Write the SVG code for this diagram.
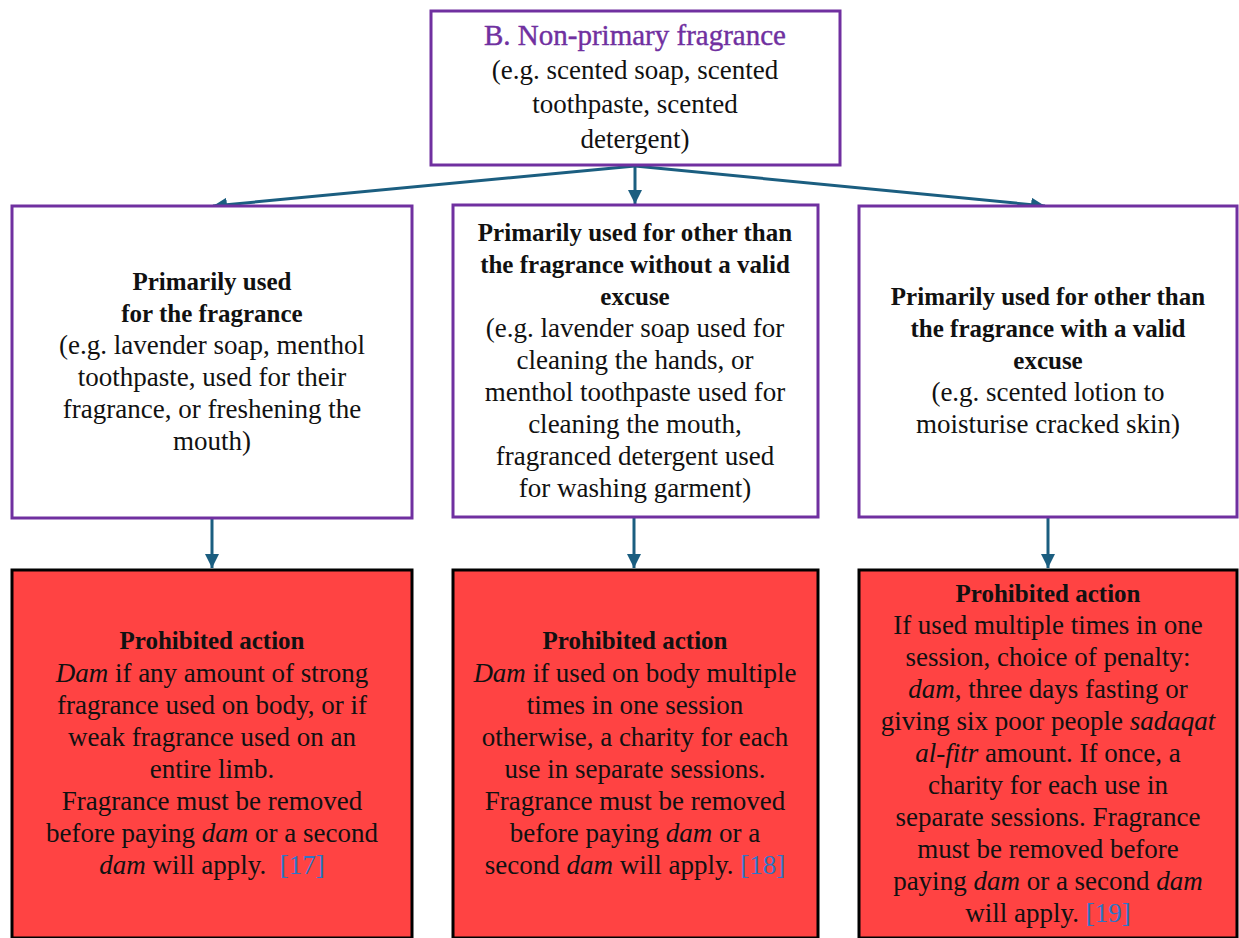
<svg xmlns="http://www.w3.org/2000/svg" width="1239" height="938" viewBox="0 0 1239 938">
<style>
.box{fill:#ffffff;stroke:#7030a0;stroke-width:3}
.red{fill:#ff4343;stroke:#000000;stroke-width:3}
text{font-family:"Liberation Serif","DejaVu Serif",serif;font-size:27px;fill:#111111;text-anchor:middle}
.b{font-weight:bold;font-size:25px}
.t{fill:#7030a0;font-size:29px}
.i{font-style:italic}
.c{fill:#2e75c6}
.conn{stroke:#1b5e80;stroke-width:3;fill:none;marker-end:url(#ah)}
</style>
<defs>
<marker id="ah" markerUnits="userSpaceOnUse" markerWidth="16" markerHeight="14" refX="14" refY="7" orient="auto">
<path d="M0,0 L14,7 L0,14 Z" fill="#1b5e80"/>
</marker>
</defs>
<rect width="1239" height="938" fill="#ffffff"/>
<g id="connectors">
<line class="conn" x1="635" y1="166" x2="213" y2="206"/>
<line class="conn" x1="635" y1="166" x2="635" y2="204"/>
<line class="conn" x1="635" y1="166" x2="1045" y2="206"/>
<line class="conn" x1="212" y1="519" x2="212" y2="568"/>
<line class="conn" x1="634" y1="518" x2="634" y2="568"/>
<line class="conn" x1="1048" y1="518" x2="1048" y2="568"/>
</g>
<g id="top">
<rect class="box" x="431" y="11" width="409" height="154"/>
<text x="635" y="45" class="t" stroke="#7030a0" stroke-width="0.4">B. Non-primary fragrance</text>
<text x="635" y="79">(e.g. scented soap, scented</text>
<text x="635" y="113">toothpaste, scented</text>
<text x="635" y="148">detergent)</text>
</g>
<g id="left">
<rect class="box" x="12" y="206" width="400" height="312"/>
<text x="212" y="290" class="b">Primarily used</text>
<text x="212" y="322" class="b">for the fragrance</text>
<text x="212" y="354">(e.g. lavender soap, menthol</text>
<text x="212" y="386">toothpaste, used for their</text>
<text x="212" y="418">fragrance, or freshening the</text>
<text x="212" y="450">mouth)</text>
</g>
<g id="middle">
<rect class="box" x="453" y="205" width="365" height="312"/>
<text x="635" y="241" class="b">Primarily used for other than</text>
<text x="635" y="273" class="b">the fragrance without a valid</text>
<text x="635" y="305" class="b">excuse</text>
<text x="635" y="337">(e.g. lavender soap used for</text>
<text x="635" y="369">cleaning the hands, or</text>
<text x="635" y="401">menthol toothpaste used for</text>
<text x="635" y="433">cleaning the mouth,</text>
<text x="635" y="465">fragranced detergent used</text>
<text x="635" y="497">for washing garment)</text>
</g>
<g id="right">
<rect class="box" x="859" y="206" width="378" height="311"/>
<text x="1048" y="305" class="b">Primarily used for other than</text>
<text x="1048" y="337" class="b">the fragrance with a valid</text>
<text x="1048" y="369" class="b">excuse</text>
<text x="1048" y="401">(e.g. scented lotion to</text>
<text x="1048" y="433">moisturise cracked skin)</text>
</g>
<g id="red-left">
<rect class="red" x="12" y="570" width="400" height="368"/>
<text x="212" y="649" class="b">Prohibited action</text>
<text x="212" y="682"><tspan class="i">Dam</tspan> if any amount of strong</text>
<text x="212" y="714">fragrance used on body, or if</text>
<text x="212" y="746">weak fragrance used on an</text>
<text x="212" y="778">entire limb.</text>
<text x="212" y="810">Fragrance must be removed</text>
<text x="212" y="842">before paying <tspan class="i">dam</tspan> or a second</text>
<text x="212" y="874" xml:space="preserve"><tspan class="i">dam</tspan> will apply.  <tspan class="c">[17]</tspan></text>
</g>
<g id="red-middle">
<rect class="red" x="453" y="570" width="365" height="368"/>
<text x="635" y="649" class="b">Prohibited action</text>
<text x="635" y="682"><tspan class="i">Dam</tspan> if used on body multiple</text>
<text x="635" y="714">times in one session</text>
<text x="635" y="746">otherwise, a charity for each</text>
<text x="635" y="778">use in separate sessions.</text>
<text x="635" y="810">Fragrance must be removed</text>
<text x="635" y="842">before paying <tspan class="i">dam</tspan> or a</text>
<text x="635" y="874">second <tspan class="i">dam</tspan> will apply. <tspan class="c">[18]</tspan></text>
</g>
<g id="red-right">
<rect class="red" x="859" y="570" width="378" height="368"/>
<text x="1048" y="602" class="b">Prohibited action</text>
<text x="1048" y="634">If used multiple times in one</text>
<text x="1048" y="666">session, choice of penalty:</text>
<text x="1048" y="698"><tspan class="i">dam</tspan>, three days fasting or</text>
<text x="1048" y="730">giving six poor people <tspan class="i">sadaqat</tspan></text>
<text x="1048" y="762"><tspan class="i">al-fitr</tspan> amount. If once, a</text>
<text x="1048" y="794">charity for each use in</text>
<text x="1048" y="826">separate sessions. Fragrance</text>
<text x="1048" y="858">must be removed before</text>
<text x="1048" y="890">paying <tspan class="i">dam</tspan> or a second <tspan class="i">dam</tspan></text>
<text x="1048" y="922">will apply. <tspan class="c">[19]</tspan></text>
</g>
</svg>
